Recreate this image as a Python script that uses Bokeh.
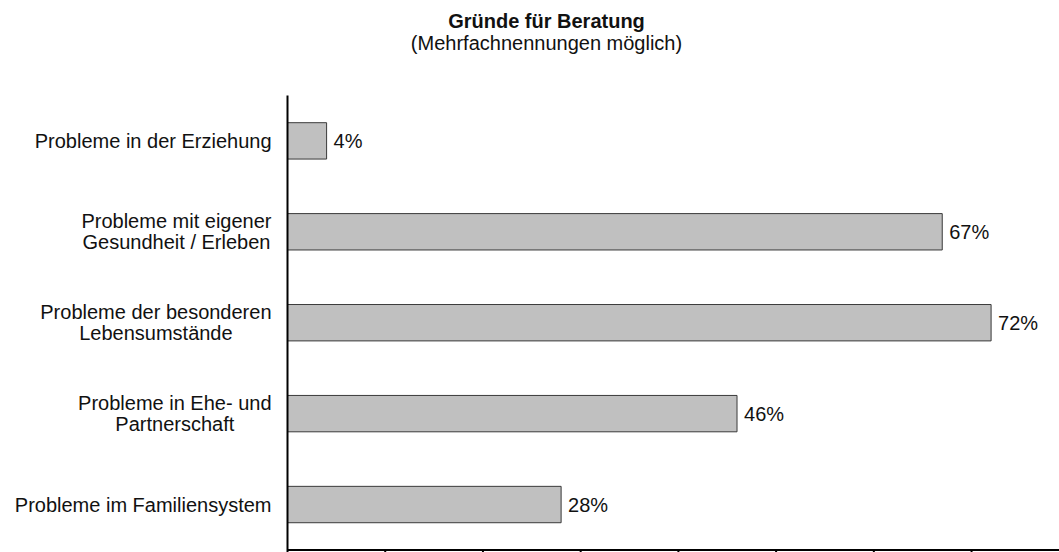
from bokeh.plotting import figure
from bokeh.models import Range1d, Label, ColumnDataSource
from bokeh.embed import file_html
from bokeh.resources import INLINE
from bokeh.core.properties import value

FONT = "Liberation Sans"
FS = 20  # px

# data (bottom to top)
categories = [
    "Probleme im Familiensystem",
    "Probleme in Ehe- und\nPartnerschaft",
    "Probleme der besonderen\nLebensumstände",
    "Probleme mit eigener\nGesundheit / Erleben",
    "Probleme in der Erziehung",
]
values = [28, 46, 72, 67, 4]
value_labels = [f"{v}%" for v in values]
x_ticks = [0, 10, 20, 30, 40, 50, 60, 70]

title_text = "Gründe für Beratung"
subtitle_text = "(Mehrfachnennungen möglich)"

# Arial / Liberation Sans advance widths (1/1000 em) for label layout
_W = {" ": 278, "(": 333, ")": 333, "/": 278, "-": 333, "%": 889,
      "a": 556, "b": 556, "c": 500, "d": 556, "e": 556, "f": 278, "g": 556, "h": 556,
      "i": 222, "j": 222, "k": 500, "l": 222, "m": 833, "n": 556, "o": 556, "p": 556,
      "q": 556, "r": 333, "s": 500, "t": 278, "u": 556, "v": 500, "w": 722, "x": 500,
      "y": 500, "z": 500, "ä": 556, "ö": 556, "ü": 556,
      "E": 667, "F": 611, "G": 778, "L": 556, "P": 667, "B": 667}


def text_width(s):
    return max(sum(_W.get(ch, 556) for ch in line) for line in s.split("\n")) * FS / 1000.0


positions = list(range(len(categories)))
label_standoff = 16
label_offsets = [-(label_standoff + text_width(c) / 2.0) for c in categories]

src = ColumnDataSource(dict(pos=positions, val=values, lab=value_labels,
                            cat=categories, zero=[0] * len(values), xoff=label_offsets))

X_START = -29.37
X_END = 79.0
Y_START = -0.5275
Y_END = 5.544
axis_y = -0.5
top_y = len(categories) - 0.5

p = figure(
    width=1059, height=552,
    y_range=Range1d(Y_START, Y_END),
    x_range=Range1d(X_START, X_END),
    output_backend="svg", toolbar_location=None,
    x_axis_location=None, y_axis_location=None,
    min_border=0,
)
p.outline_line_color = None
p.xgrid.grid_line_color = None
p.ygrid.grid_line_color = None
p.background_fill_color = "white"

p.hbar(y="pos", right="val", left=0, height=0.4, source=src,
       fill_color="#c0c0c0", line_color="#3a3a3a", line_width=1)

p.text(x="val", y="pos", text="lab", source=src, x_offset=7,
       text_baseline="middle", text_align="left",
       text_font=value(FONT), text_font_size=f"{FS}px", text_color="#111111")

# category labels (lines centred, block right-aligned to the axis)
p.text(x="zero", y="pos", text="cat", source=src, x_offset="xoff", y_offset=0,
       text_baseline="middle", text_align="center", text_line_height=0.95,
       text_font=value(FONT), text_font_size=f"{FS}px", text_color="#111111")

# axes
p.segment(x0=[0], x1=[X_END], y0=[axis_y], y1=[axis_y], line_color="black", line_width=2)
p.segment(x0=x_ticks, x1=x_ticks, y0=[axis_y] * len(x_ticks), y1=[Y_START] * len(x_ticks),
          line_color="black", line_width=2)
p.segment(x0=[0], x1=[0], y0=[axis_y], y1=[top_y], line_color="black", line_width=2)

cx = 546
p.add_layout(Label(x=cx, y=552 - 20, x_units="screen", y_units="screen",
                   text=title_text, text_font=FONT, text_font_size=f"{FS}px",
                   text_font_style="bold", text_align="center",
                   text_baseline="alphabetic", text_color="#111111"))
p.add_layout(Label(x=cx, y=552 - 42.5, x_units="screen", y_units="screen",
                   text=subtitle_text, text_font=FONT, text_font_size=f"{FS}px",
                   text_align="center", text_baseline="alphabetic",
                   text_color="#111111"))

open("out.html", "w").write(file_html(p, INLINE))
